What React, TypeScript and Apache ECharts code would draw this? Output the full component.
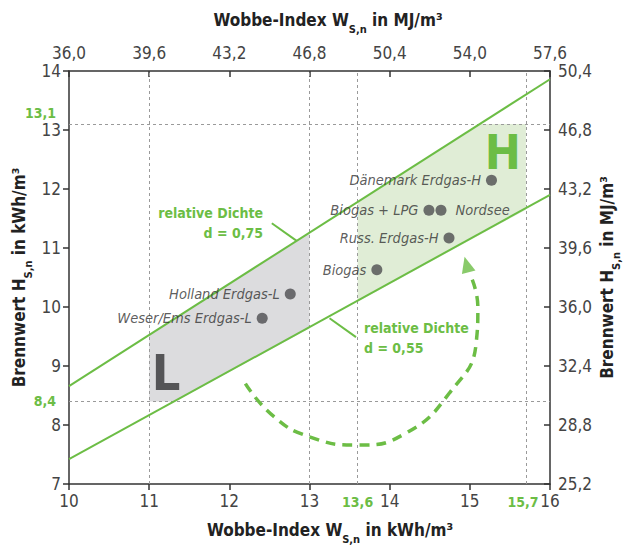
import React, { useEffect, useRef } from 'react';
import * as echarts from 'echarts';

const GREEN = '#6cbd45';
const FONT = "'Liberation Sans Narrow', 'DejaVu Sans Condensed', Roboto, sans-serif";

// Lines of constant relative density (Hs vs Ws, kWh/m3)
const lineD075: number[][] = [[10, 8.66], [16, 13.86]];
const lineD055: number[][] = [[10, 7.42], [16, 11.9]];

// Gas family regions
const regionL: number[][] = [[11, 9.53], [11, 8.4], [11.32, 8.4], [13, 9.64], [13, 11.26]];
const regionH: number[][] = [[13.6, 10.09], [15.7, 11.65], [15.7, 13.1], [15.13, 13.1], [13.6, 11.78]];

// Gases
const gasNames = ['Dänemark Erdgas-H', 'Biogas + LPG', 'Nordsee', 'Russ. Erdgas-H', 'Biogas', 'Holland Erdgas-L', 'Weser/Ems Erdgas-L'];
const gasW = [15.27, 14.49, 14.64, 14.74, 13.84, 12.76, 12.41];
const gasH = [12.15, 11.64, 11.64, 11.17, 10.63, 10.22, 9.81];

// Reference limits
const refX = [11, 13, 13.6, 15.7];
const refY = [13.1, 8.4];
const refXLabels = ['13,6', '15,7'];
const refXLabelVals = [13.6, 15.7];
const refYLabels = ['13,1', '8,4'];

// Curved dashed arrow (L -> H)
const arrowPath: number[][] = [[12.2, 8.7], [12.55, 8.15], [13.0, 7.8], [13.6, 7.66], [14.2, 7.86], [14.75, 8.55], [15.08, 9.4], [15.1, 10.0], [15.02, 10.5]];
const arrowHead: number[][] = [[14.96, 10.72]];

// Annotations
const leader075: number[][] = [[12.53, 11.42], [12.84, 11.12]];
const leader055: number[][] = [[13.25, 9.81], [13.58, 9.49]];
const note075Anchor = [12.42, 11.42];
const note055Anchor = [13.68, 9.47];
const letterH = [15.41, 12.63];
const letterL = [11.21, 8.88];

const fmt1 = (v: number) => v.toFixed(1).replace('.', ',');

export default function App() {
  const ref = useRef<HTMLDivElement>(null);
  useEffect(() => {
    const chart = echarts.init(ref.current!, null, { renderer: 'svg' });
    const axisLine = { show: true, onZero: false, lineStyle: { color: '#333', width: 1.5 } };
    const axisLabel = { color: '#444', fontSize: 17, fontFamily: FONT };
    const polySeries = (data: number[][], fill: string) => ({
      type: 'custom',
      data,
      z: 1,
      silent: true,
      encode: { x: 0, y: 1 },
      renderItem: (params: any, api: any) => {
        if (params.dataIndex !== 0) return null;
        return {
          type: 'polygon',
          shape: { points: data.map((p) => api.coord(p)) },
          style: { fill, stroke: 'none' },
        };
      },
    });
    const option: any = {
      animation: false,
      grid: { left: 69, right: 74, top: 71, bottom: 65 },
      xAxis: [
        {
          type: 'value', position: 'bottom', min: 10, max: 16, interval: 1,
          axisLine, axisTick: { show: true, inside: false, length: 6, lineStyle: { color: '#333', width: 1.5 } },
          axisLabel: { ...axisLabel, margin: 8 }, splitLine: { show: false },
        },
        {
          type: 'value', position: 'top', min: 36, max: 57.6, interval: 3.6,
          axisLine, axisTick: { show: true, inside: true, length: 6, lineStyle: { color: '#333', width: 1.5 } },
          axisLabel: { ...axisLabel, margin: 10, formatter: fmt1 }, splitLine: { show: false },
        },
      ],
      yAxis: [
        {
          type: 'value', position: 'left', min: 7, max: 14, interval: 1,
          axisLine, axisTick: { show: true, inside: false, length: 6, lineStyle: { color: '#333', width: 1.5 } },
          axisLabel: { ...axisLabel, margin: 8 }, splitLine: { show: false },
        },
        {
          type: 'value', position: 'right', min: 25.2, max: 50.4, interval: 3.6,
          axisLine, axisTick: { show: true, inside: true, length: 6, lineStyle: { color: '#333', width: 1.5 } },
          axisLabel: { ...axisLabel, margin: 8, formatter: fmt1 }, splitLine: { show: false },
        },
      ],
      series: [
        polySeries(regionL, '#dcdcde'),
        polySeries(regionH, '#e0edd6'),
        {
          type: 'line', data: lineD075, symbol: 'none', z: 3, silent: true,
          lineStyle: { color: GREEN, width: 2 },
          markLine: {
            silent: true, symbol: ['none', 'none'], label: { show: false }, z: 2,
            lineStyle: { color: '#9a9a9a', type: [3, 3], width: 1 },
            data: [...refX.map((v) => ({ xAxis: v })), ...refY.map((v) => ({ yAxis: v }))],
          },
        },
        { type: 'line', data: lineD055, symbol: 'none', z: 3, silent: true, lineStyle: { color: GREEN, width: 2 } },
        {
          type: 'line', data: arrowPath, symbol: 'none', smooth: true, z: 3, silent: true,
          lineStyle: { color: GREEN, width: 3.5, type: [10, 7] },
        },
        {
          type: 'scatter', data: arrowHead, symbol: 'triangle', symbolSize: [14, 16], symbolRotate: 15,
          itemStyle: { color: GREEN }, z: 4, silent: true,
        },
        {
          type: 'scatter', z: 5, symbolSize: 11, silent: true,
          itemStyle: { color: '#4d4d50' },
          label: {
            show: true, position: 'left', distance: 5, color: '#333', fontSize: 14.5, fontStyle: 'italic', fontFamily: FONT,
            formatter: (p: any) => p.name,
          },
          data: gasNames.map((n, i) => ({
            name: n, value: [gasW[i], gasH[i]],
            ...(n === 'Nordsee' ? { label: { position: 'right', distance: 9 } } : {}),
          })),
        },
      ],
    };
    chart.setOption(option);

    const px = (p: number[]) => chart.convertToPixel({ gridIndex: 0 }, p) as number[];
    const titleRich = {
      s: { fontSize: 11, fontWeight: 'bold', fontFamily: FONT, fill: '#222', verticalAlign: 'bottom', lineHeight: 10 },
    };
    const titleStyle = (text: string) => ({
      text, fill: '#222', fontSize: 17, fontWeight: 'bold', fontFamily: FONT, lineHeight: 30,
      align: 'center', verticalAlign: 'middle', rich: titleRich,
    });
    const gridTopLeft = px([10, 14]);
    const gridBottomRight = px([16, 7]);
    const midY = (gridTopLeft[1] + gridBottomRight[1]) / 2;

    const graphic: any[] = [];
    [leader075, leader055].forEach((l) => {
      const a = px(l[0]);
      const b = px(l[1]);
      graphic.push({ type: 'line', silent: true, z: 10, shape: { x1: a[0], y1: a[1], x2: b[0], y2: b[1] }, style: { stroke: GREEN, lineWidth: 2 } });
    });
    const n1 = px(note075Anchor);
    graphic.push({
      type: 'text', x: n1[0], y: n1[1], z: 10,
      style: { text: 'relative Dichte\nd = 0,75', fill: GREEN, fontSize: 14, fontWeight: 'bold', fontFamily: FONT, lineHeight: 20, align: 'right', verticalAlign: 'middle' },
    });
    const n2 = px(note055Anchor);
    graphic.push({
      type: 'text', x: n2[0], y: n2[1], z: 10,
      style: { text: 'relative Dichte\nd = 0,55', fill: GREEN, fontSize: 14, fontWeight: 'bold', fontFamily: FONT, lineHeight: 20, align: 'left', verticalAlign: 'middle' },
    });
    const h = px(letterH);
    graphic.push({ type: 'text', x: h[0], y: h[1], z: 10, style: { text: 'H', fill: GREEN, fontSize: 48, fontWeight: 'bold', fontFamily: FONT, align: 'center', verticalAlign: 'middle' } });
    const lpos = px(letterL);
    graphic.push({ type: 'text', x: lpos[0], y: lpos[1], z: 10, style: { text: 'L', fill: '#555557', fontSize: 50, fontWeight: 'bold', fontFamily: FONT, align: 'center', verticalAlign: 'middle' } });
    refYLabels.forEach((t, i) => {
      const p = px([10, refY[i]]);
      graphic.push({ type: 'text', x: p[0] - 13, y: p[1] - (i === 0 ? 11 : 0), z: 10, style: { text: t, fill: GREEN, fontSize: 14, fontWeight: 'bold', fontFamily: FONT, align: 'right', verticalAlign: 'middle' } });
    });
    refXLabels.forEach((t, i) => {
      const p = px([refXLabelVals[i], 7]);
      graphic.push({ type: 'text', x: p[0] - (i === 1 ? 3 : 0), y: p[1] + 18, z: 10, style: { text: t, fill: GREEN, fontSize: 14, fontWeight: 'bold', fontFamily: FONT, align: 'center', verticalAlign: 'middle' } });
    });
    graphic.push({ type: 'text', x: 328, y: 20, z: 10, style: titleStyle('Wobbe-Index W{s|S,n} in MJ/m³') });
    graphic.push({ type: 'text', x: 330, y: 530, z: 10, style: titleStyle('Wobbe-Index W{s|S,n} in kWh/m³') });
    graphic.push({ type: 'text', x: 19, y: midY, rotation: Math.PI / 2, z: 10, style: titleStyle('Brennwert H{s|S,n} in kWh/m³') });
    graphic.push({ type: 'text', x: 607, y: midY, rotation: Math.PI / 2, z: 10, style: titleStyle('Brennwert H{s|S,n} in MJ/m³') });

    chart.setOption({ graphic });
    return () => chart.dispose();
  }, []);
  return <div ref={ref} style={{ position: 'fixed', left: 0, top: 0, width: 624, height: 549, background: '#fff' }} />;
}
